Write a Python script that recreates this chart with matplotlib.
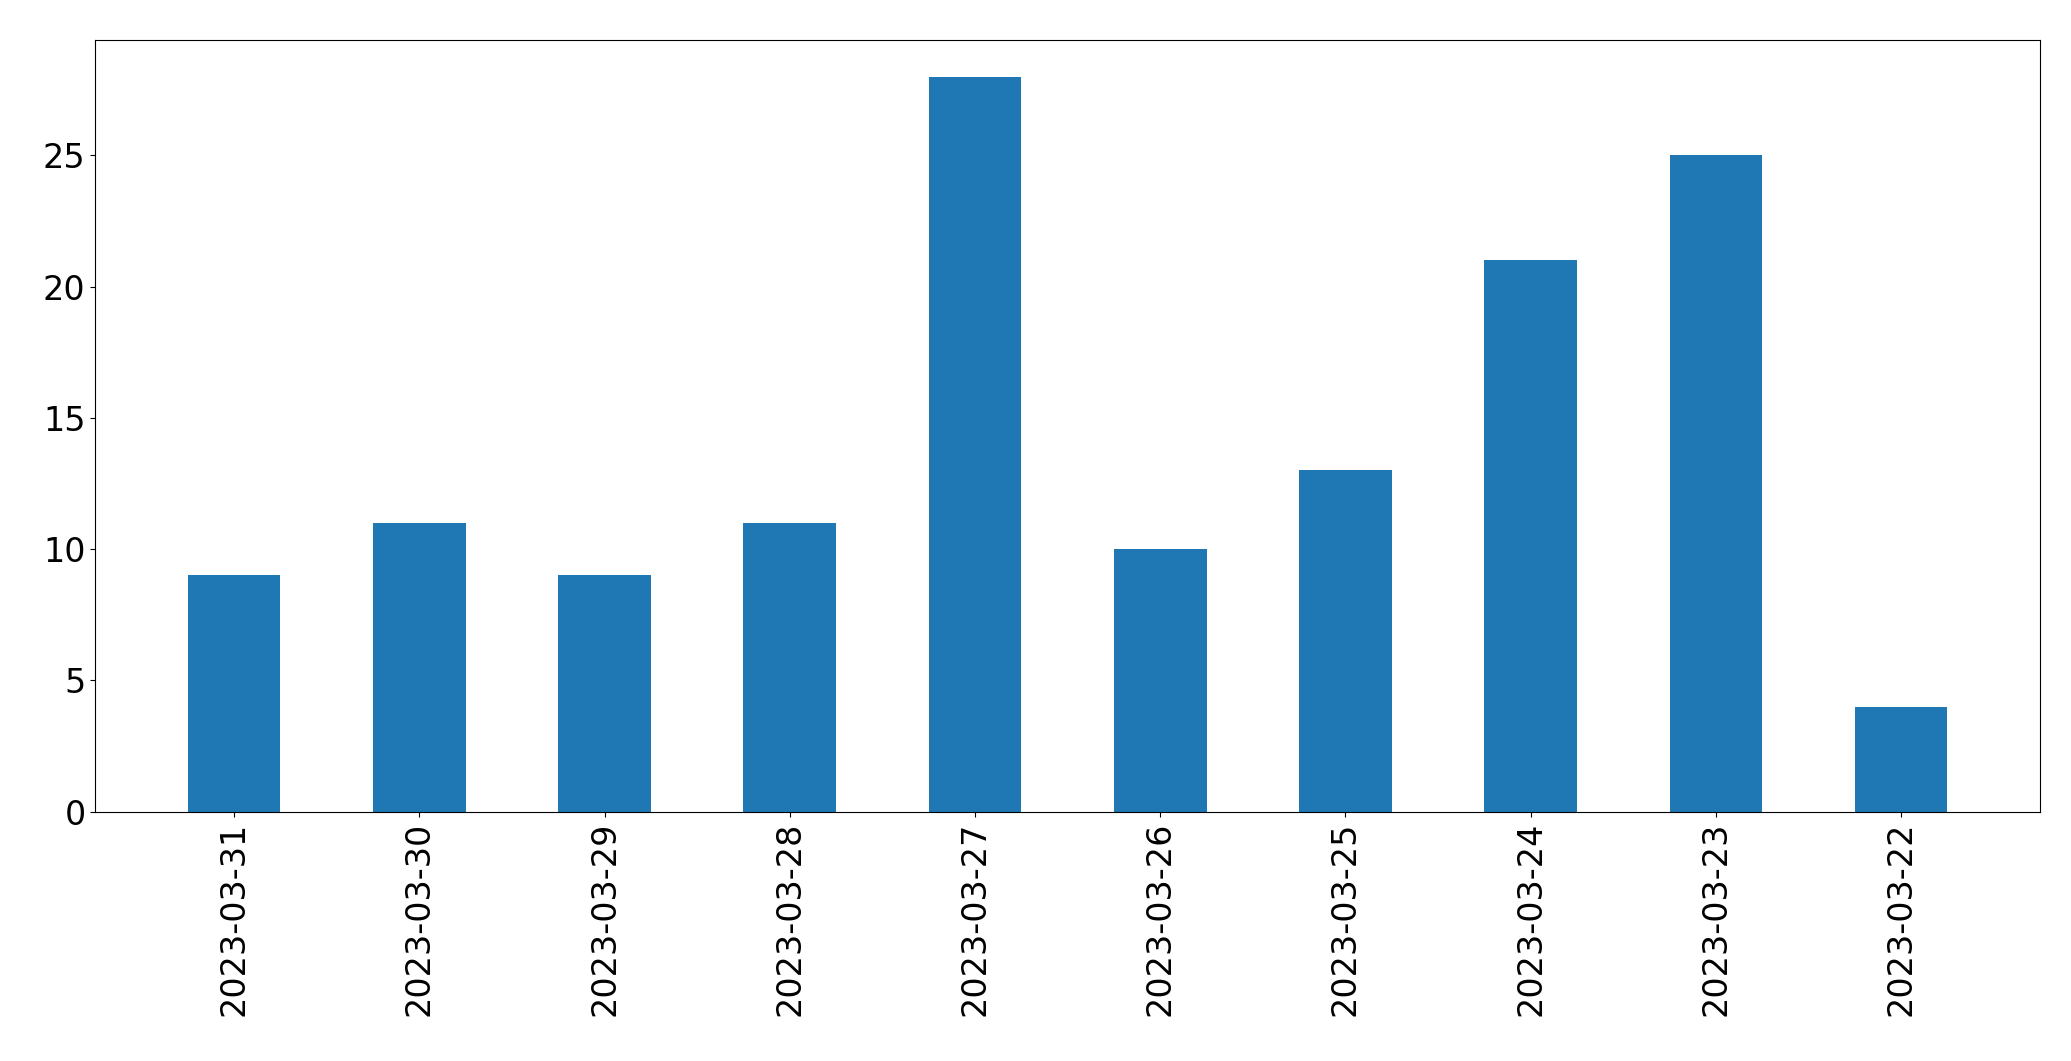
import matplotlib
matplotlib.use("Agg")
import matplotlib.pyplot as plt

dates = ["2023-03-31","2023-03-30","2023-03-29","2023-03-28","2023-03-27",
         "2023-03-26","2023-03-25","2023-03-24","2023-03-23","2023-03-22"]
counts = [9, 11, 9, 11, 28, 10, 13, 21, 25, 4]

fig = plt.figure(figsize=(20.71, 10.61), dpi=100)
ax = fig.add_axes([0.046, 0.235, 0.939, 0.7275])
x = range(len(dates))
ax.bar(x, counts, width=0.5, color="#1f77b4")
ax.set_xticks(list(x))
ax.set_xticklabels(dates, rotation=90, fontsize=24)
ax.tick_params(axis="y", labelsize=24)
ax.set_xlim(-0.75, len(dates) - 0.25)
ax.set_ylim(0, 29.4)
fig.savefig("out.png", dpi=100)
